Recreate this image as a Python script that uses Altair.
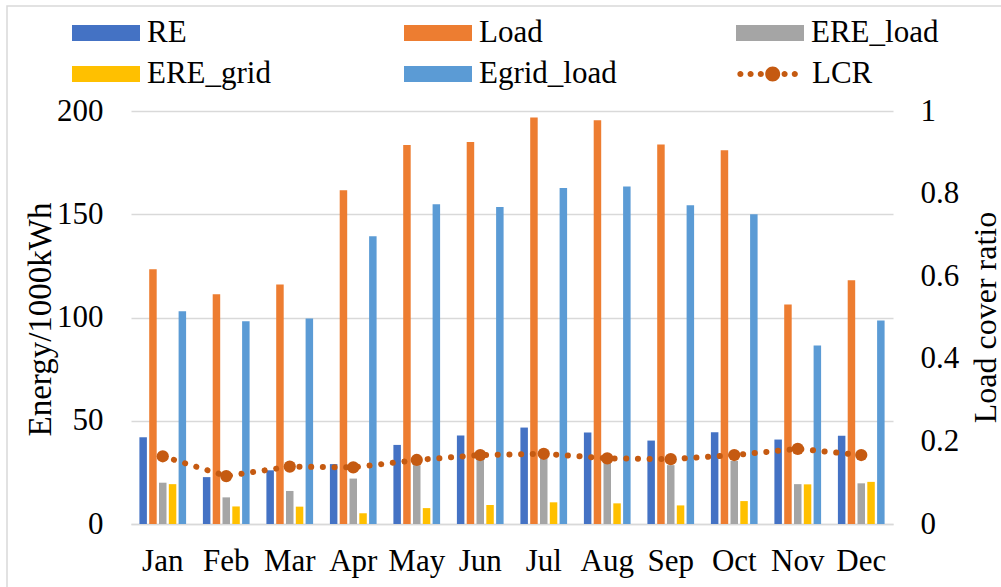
import altair as alt
import pandas as pd

months = ["Jan", "Feb", "Mar", "Apr", "May", "Jun", "Jul", "Aug", "Sep", "Oct", "Nov", "Dec"]
series_names = ["RE", "Load", "ERE_load", "ERE_grid", "Egrid_load"]
series_colors = ["#4472C4", "#ED7D31", "#A5A5A5", "#FFC000", "#5B9BD5"]
re_vals = [42, 22.7, 26, 29, 38.3, 42.8, 46.7, 44.3, 40.4, 44.4, 40.9, 42.7]
load_vals = [123.4, 111.3, 116, 161.6, 183.5, 185, 196.8, 195.5, 183.8, 181, 106.3, 118]
ere_load_vals = [20, 12.9, 16, 22, 28.5, 31, 31.9, 30, 28.5, 30.6, 19.3, 19.7]
ere_grid_vals = [19.3, 8.5, 8.4, 5.2, 7.7, 9.2, 10.5, 10, 9, 11.1, 19.2, 20.4]
egrid_load_vals = [103, 98.2, 99.5, 139.3, 154.8, 153.5, 162.7, 163.4, 154.3, 150, 86.5, 98.5]
lcr_vals = [0.164, 0.116, 0.139, 0.137, 0.155, 0.167, 0.17, 0.159, 0.157, 0.167, 0.182, 0.167]
lcr_color = "#C55A11"

# legend rows
row1 = series_names[:3]
row2 = series_names[3:]

rows = []
for name, vals in zip(series_names, [re_vals, load_vals, ere_load_vals, ere_grid_vals, egrid_load_vals]):
    for m, v in zip(months, vals):
        rows.append({"month": m, "series": name, "value": v})
bars_df = pd.DataFrame(rows)
bars1_df = bars_df[bars_df["series"].isin(row1)]
bars2_df = bars_df[bars_df["series"].isin(row2)]
lcr_df = pd.DataFrame({"month": months, "LCR": lcr_vals, "name": ["LCR"] * len(months)})

FONT = "Liberation Serif"
FS = 31

rect_path = "M-1,-0.235H1V0.235H-1Z"


def dot(cx, r):
    return f"M{cx - r},0a{r},{r} 0 1,0 {2 * r},0a{r},{r} 0 1,0 {-2 * r},0Z"


lcr_path = "".join([dot(-0.9, 0.09), dot(-0.6, 0.09), dot(-0.3, 0.09), dot(0.05, 0.22),
                    dot(0.4, 0.09), dot(0.7, 0.09)])


def legend_props(lx, ly, colpad):
    return dict(title=None, orient="none", legendX=lx, legendY=ly, columns=3, direction="horizontal",
                gridAlign="all", columnPadding=colpad, symbolSize=4624, symbolStrokeWidth=0,
                symbolOpacity=1, labelOffset=7, labelFont=FONT, labelFontSize=FS,
                labelColor="black", labelLimit=300)


x_enc = alt.X("month:N", sort=months, title=None,
              scale=alt.Scale(paddingInner=0, paddingOuter=0),
              axis=alt.Axis(labelFont=FONT, labelFontSize=FS, labelColor="black", labelAngle=0,
                            labelPadding=22, ticks=False, tickSize=0, domain=True,
                            domainColor="#D9D9D9", domainWidth=1.5, grid=False))
xoff_enc = alt.XOffset("series:N", sort=series_names,
                       scale=alt.Scale(domain=series_names, paddingInner=0.235, paddingOuter=0.857))
y_left = alt.Y("value:Q", title="Energy/1000kWh",
               scale=alt.Scale(domain=[0, 200], nice=False),
               axis=alt.Axis(values=[0, 50, 100, 150, 200], labelFont=FONT, labelFontSize=FS,
                             labelColor="black", labelPadding=28, ticks=False, tickSize=0, domain=False,
                             grid=True, gridColor="#D9D9D9", gridWidth=1.5,
                             titleFont=FONT, titleFontSize=33, titleFontWeight="normal", titleColor="black",
                             titleX=-91, titleY=208, titleAngle=270, titleAlign="center",
                             titleBaseline="middle"))

bars1 = alt.Chart(bars1_df).mark_bar().encode(
    x=x_enc, xOffset=xoff_enc, y=y_left,
    fill=alt.Fill("series:N", scale=alt.Scale(domain=row1, range=series_colors[:3]),
                  legend=alt.Legend(symbolType=rect_path, **legend_props(-59, -112, 129))),
)
bars2 = alt.Chart(bars2_df).mark_bar().encode(
    x=x_enc, xOffset=xoff_enc, y=y_left,
    color=alt.Color("series:N", scale=alt.Scale(domain=row2, range=series_colors[3:]),
                    legend=alt.Legend(symbolType=rect_path, **legend_props(-59, -71, 119))),
)

right_axis = alt.Axis(values=[0, 0.2, 0.4, 0.6, 0.8, 1], format="~g", orient="right",
                      labelFont=FONT, labelFontSize=FS, labelColor="black", labelPadding=27,
                      ticks=False, tickSize=0, domain=False, grid=False,
                      titleFont=FONT, titleFontSize=32, titleFontWeight="normal", titleColor="black",
                      titleX=92, titleY=206, titleAngle=270, titleAlign="center", titleBaseline="middle")

y_right = alt.Y("LCR:Q", title="Load cover ratio", scale=alt.Scale(domain=[0, 1], nice=False), axis=right_axis)

line = alt.Chart(lcr_df).mark_line(color=lcr_color, strokeWidth=6, strokeCap="round",
                                   strokeDash=[0.1, 11.6]).encode(
    x=alt.X("month:N", sort=months),
    y=y_right,
)
pts = alt.Chart(lcr_df).mark_circle(color=lcr_color, size=150, opacity=1).encode(
    x=alt.X("month:N", sort=months),
    y=y_right,
)
# legend-only layer for LCR (no marks drawn)
lcr_key = alt.Chart(lcr_df).transform_filter("false").mark_point(
    filled=True, color=lcr_color, opacity=1).encode(
    x=alt.X("month:N", sort=months),
    y=y_right,
    shape=alt.Shape("name:N", scale=alt.Scale(domain=["LCR"], range=[lcr_path]),
                    legend=alt.Legend(title=None, orient="none", legendX=606, legendY=-71,
                                      symbolSize=4624, symbolStrokeWidth=0, symbolFillColor=lcr_color,
                                      symbolOpacity=1, labelOffset=7,
                                      labelFont=FONT, labelFontSize=FS, labelColor="black")),
)

border = alt.Chart(alt.Data(values=[{"a": 1}])).mark_rect(
    fill=None, stroke="#D9D9D9", strokeWidth=1.5).encode(
    x=alt.value(-124), x2=alt.value(1000), y=alt.value(-105), y2=alt.value(600))

left_layer = alt.layer(bars1, bars2)
right_layer = alt.layer(line, pts, lcr_key)

chart = alt.layer(left_layer, right_layer, border).resolve_scale(
    y="independent"
).properties(
    width=762, height=413,
    padding={"left": 131, "top": 111, "right": 108, "bottom": 63},
    autosize=alt.AutoSizeParams(type="none"),
).configure_view(strokeWidth=0)

chart.save("out.html", embed_options={"renderer": "svg", "actions": False})
